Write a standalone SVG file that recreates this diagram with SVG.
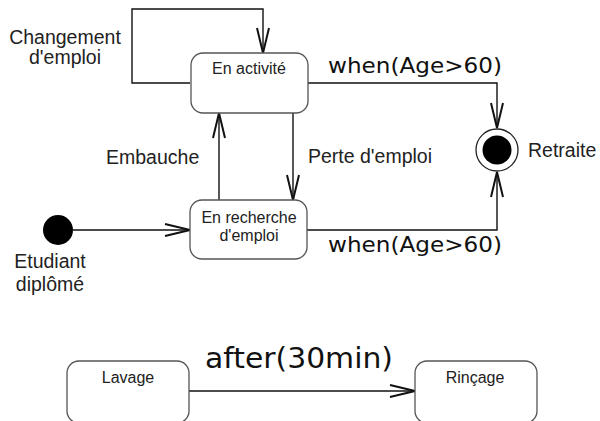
<svg xmlns="http://www.w3.org/2000/svg" width="600" height="421" viewBox="0 0 600 421">
<defs>
<style>
.state rect{fill:#fff;stroke:#555;stroke-width:1.3}
.nt{font-family:"Liberation Sans",Arial,sans-serif;font-size:16px;fill:#222;text-anchor:middle}
.lbl{font-family:"Liberation Sans",Arial,sans-serif;font-size:19.5px;fill:#222}
.guard{font-family:"DejaVu Sans",sans-serif;font-size:22px;fill:#111}
.edge{fill:none;stroke:#111;stroke-width:1.4}
</style>
<marker id="arr" markerUnits="userSpaceOnUse" viewBox="-27 -8 30 16" refX="0" refY="0" markerWidth="30" markerHeight="16" orient="auto">
<path d="M-25,-6 L0,0 L-25,6" fill="none" stroke="#111" stroke-width="2"/>
</marker>
</defs>
<rect width="600" height="421" fill="#fff"/>
<g id="connectors">
<path class="edge" d="M190,83 H132 V9 H263 V53" marker-end="url(#arr)"/>
<path class="edge" d="M308,83 H497 V128" marker-end="url(#arr)"/>
<path class="edge" d="M219,200 V113" marker-end="url(#arr)"/>
<path class="edge" d="M293,113 V200" marker-end="url(#arr)"/>
<path class="edge" d="M73,230 H190" marker-end="url(#arr)"/>
<path class="edge" d="M307,230 H497 V172" marker-end="url(#arr)"/>
<path class="edge" d="M189,391 H415" marker-end="url(#arr)"/>
<text class="lbl" x="65" y="44" text-anchor="middle">Changement</text>
<text class="lbl" x="65" y="64" text-anchor="middle">d'emploi</text>
<text class="guard" x="328" y="73" textLength="174" lengthAdjust="spacingAndGlyphs">when(Age&gt;60)</text>
<text class="lbl" x="106" y="164">Embauche</text>
<text class="lbl" x="308" y="163">Perte d'emploi</text>
<text class="guard" x="328" y="252" textLength="174" lengthAdjust="spacingAndGlyphs">when(Age&gt;60)</text>
<text class="guard" x="205" y="368" style="font-size:28px" textLength="188" lengthAdjust="spacingAndGlyphs">after(30min)</text>
</g>
<g id="en-activite" class="state">
<rect x="191" y="53" width="117" height="60" rx="12"/>
<text class="nt" x="249" y="74">En activité</text>
</g>
<g id="en-recherche" class="state">
<rect x="190" y="200" width="117" height="59" rx="12"/>
<text class="nt" x="249" y="223">En recherche</text>
<text class="nt" x="249" y="241">d'emploi</text>
</g>
<g id="initial">
<circle cx="58" cy="230" r="15" fill="#000"/>
<text class="lbl" x="50" y="268" text-anchor="middle">Etudiant</text>
<text class="lbl" x="50" y="291" text-anchor="middle">diplômé</text>
</g>
<g id="retraite">
<circle cx="497" cy="150" r="21" fill="#fff" stroke="#222" stroke-width="1.3"/>
<circle cx="497" cy="150" r="14.5" fill="#000"/>
<text class="lbl" x="528" y="157">Retraite</text>
</g>
<g id="lavage" class="state">
<rect x="67" y="361" width="122" height="62" rx="12"/>
<text class="nt" x="128" y="383">Lavage</text>
</g>
<g id="rincage" class="state">
<rect x="415" y="361" width="122" height="62" rx="12"/>
<text class="nt" x="475" y="383">Rinçage</text>
</g>
</svg>
